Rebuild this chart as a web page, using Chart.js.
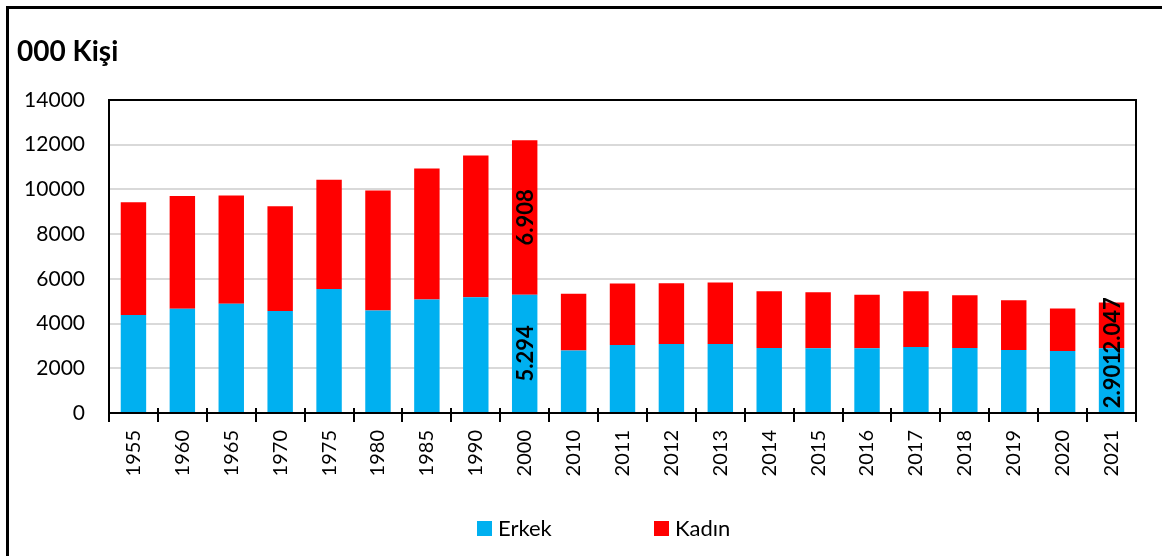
<!DOCTYPE html>
<html>
<head>
<meta charset="utf-8">
<script src="https://cdn.jsdelivr.net/npm/chart.js@4"></script>
<style>
    body { margin: 0; overflow: hidden; background: #fff; }
    #wrap { position: relative; width: 1162px; height: 556px; }
    #frame {
        position: absolute; left: 6px; top: 6px; width: 1200px; height: 600px;
        border: 3px solid #000; pointer-events: none;
    }
</style>
</head>
<body>
<div id="wrap">
    <canvas id="barChart" width="1162" height="556"></canvas>
    <div id="frame"></div>
</div>
<script>
// Data - thousand persons
const years = ['1955', '1960', '1965', '1970', '1975', '1980', '1985', '1990', '2000', '2010',
    '2011', '2012', '2013', '2014', '2015', '2016', '2017', '2018', '2019', '2020', '2021'];
const erkek = [4379, 4660, 4882, 4557, 5550, 4588, 5078, 5180, 5294, 2790,
    3042, 3087, 3087, 2909, 2894, 2894, 2954, 2909, 2820, 2775, 2901];
const kadin = [5046, 5050, 4842, 4691, 4887, 5359, 5862, 6340, 6908, 2540,
    2748, 2718, 2748, 2539, 2509, 2390, 2494, 2361, 2227, 1902, 2047];
const erkekLabels = [null, null, null, null, null, null, null, null, '5.294', null,
    null, null, null, null, null, null, null, null, null, null, '2.901'];
const kadinLabels = [null, null, null, null, null, null, null, null, '6.908', null,
    null, null, null, null, null, null, null, null, null, null, '2.047'];
const yTicks = [0, 2000, 4000, 6000, 8000, 10000, 12000, 14000];

const FONT = 'Lato, "Open Sans", sans-serif';

// title, plot box, bar labels, legend
const extras = {
    id: 'extras',
    afterDatasetsDraw(chart) {
        const ctx = chart.ctx;
        const area = chart.chartArea;
        ctx.save();
        ctx.strokeStyle = '#000';
        ctx.lineWidth = 2;
        ctx.strokeRect(area.left, area.top, area.right - area.left, area.bottom - area.top);

        // small tick stubs above the x axis
        const xs = chart.scales.x;
        for (let i = 0; i <= years.length; i++) {
            const px = Math.round(xs.left + (xs.right - xs.left) * i / years.length);
            ctx.beginPath();
            ctx.moveTo(px, area.bottom - 5);
            ctx.lineTo(px, area.bottom);
            ctx.stroke();
        }

        ctx.font = 'bold 22px ' + FONT;
        ctx.fillStyle = '#000';
        ctx.textAlign = 'center';
        ctx.textBaseline = 'middle';
        [erkekLabels, kadinLabels].forEach((labels, di) => {
            chart.getDatasetMeta(di).data.forEach((bar, i) => {
                if (!labels[i]) return;
                ctx.save();
                ctx.translate(bar.x, (bar.y + bar.base) / 2);
                ctx.rotate(-Math.PI / 2);
                ctx.fillText(labels[i], 0, 1);
                ctx.restore();
            });
        });

        ctx.textAlign = 'left';
        ctx.textBaseline = 'alphabetic';
        ctx.font = 'bold 28px ' + FONT;
        ctx.fillText('000 Kişi', 17, 61);

        ctx.font = '22px ' + FONT;
        ctx.textBaseline = 'middle';
        const items = [['Erkek', 477], ['Kadın', 654]];
        items.forEach((it, i) => {
            ctx.fillStyle = chart.data.datasets[i].backgroundColor;
            ctx.fillRect(it[1], 521, 15, 15);
            ctx.fillStyle = '#000';
            ctx.fillText(it[0], it[1] + 21, 529);
        });
        ctx.restore();
    }
};

const bar = document.getElementById('barChart');
const barChart = new Chart(bar, {
    type: 'bar',
    data: {
        labels: years,
        datasets: [{
            label: 'Erkek',
            data: erkek,
            backgroundColor: '#00B0F0'
        }, {
            label: 'Kadın',
            data: kadin,
            backgroundColor: '#FF0000'
        }]
    },
    options: {
        responsive: false,
        animation: false,
        layout: { padding: { top: 100, right: 26, left: 0, bottom: 0 } },
        datasets: { bar: { categoryPercentage: 1, barPercentage: 0.52 } },
        plugins: {
            legend: { display: false },
            tooltip: { enabled: false }
        },
        scales: {
            x: {
                stacked: true,
                afterFit(scale) { scale.height = 143; },
                grid: {
                    offset: true,
                    drawOnChartArea: false,
                    drawTicks: true,
                    tickLength: 9,
                    color: '#000',
                    lineWidth: 2
                },
                border: { display: true, color: '#000', width: 2 },
                ticks: {
                    minRotation: 90,
                    maxRotation: 90,
                    padding: 8,
                    color: '#000',
                    font: { family: FONT, size: 20 }
                }
            },
            y: {
                stacked: true,
                min: 0,
                max: 14000,
                afterFit(scale) { scale.width = 109; },
                afterBuildTicks(scale) { scale.ticks = yTicks.map(v => ({ value: v })); },
                grid: {
                    drawTicks: false,
                    color: '#d9d9d9',
                    lineWidth: 2
                },
                border: { display: true, color: '#000', width: 2 },
                ticks: {
                    padding: 24,
                    color: '#000',
                    font: { family: FONT, size: 21 },
                    callback: v => String(v)
                }
            }
        }
    },
    plugins: [extras]
});
</script>
</body>
</html>
